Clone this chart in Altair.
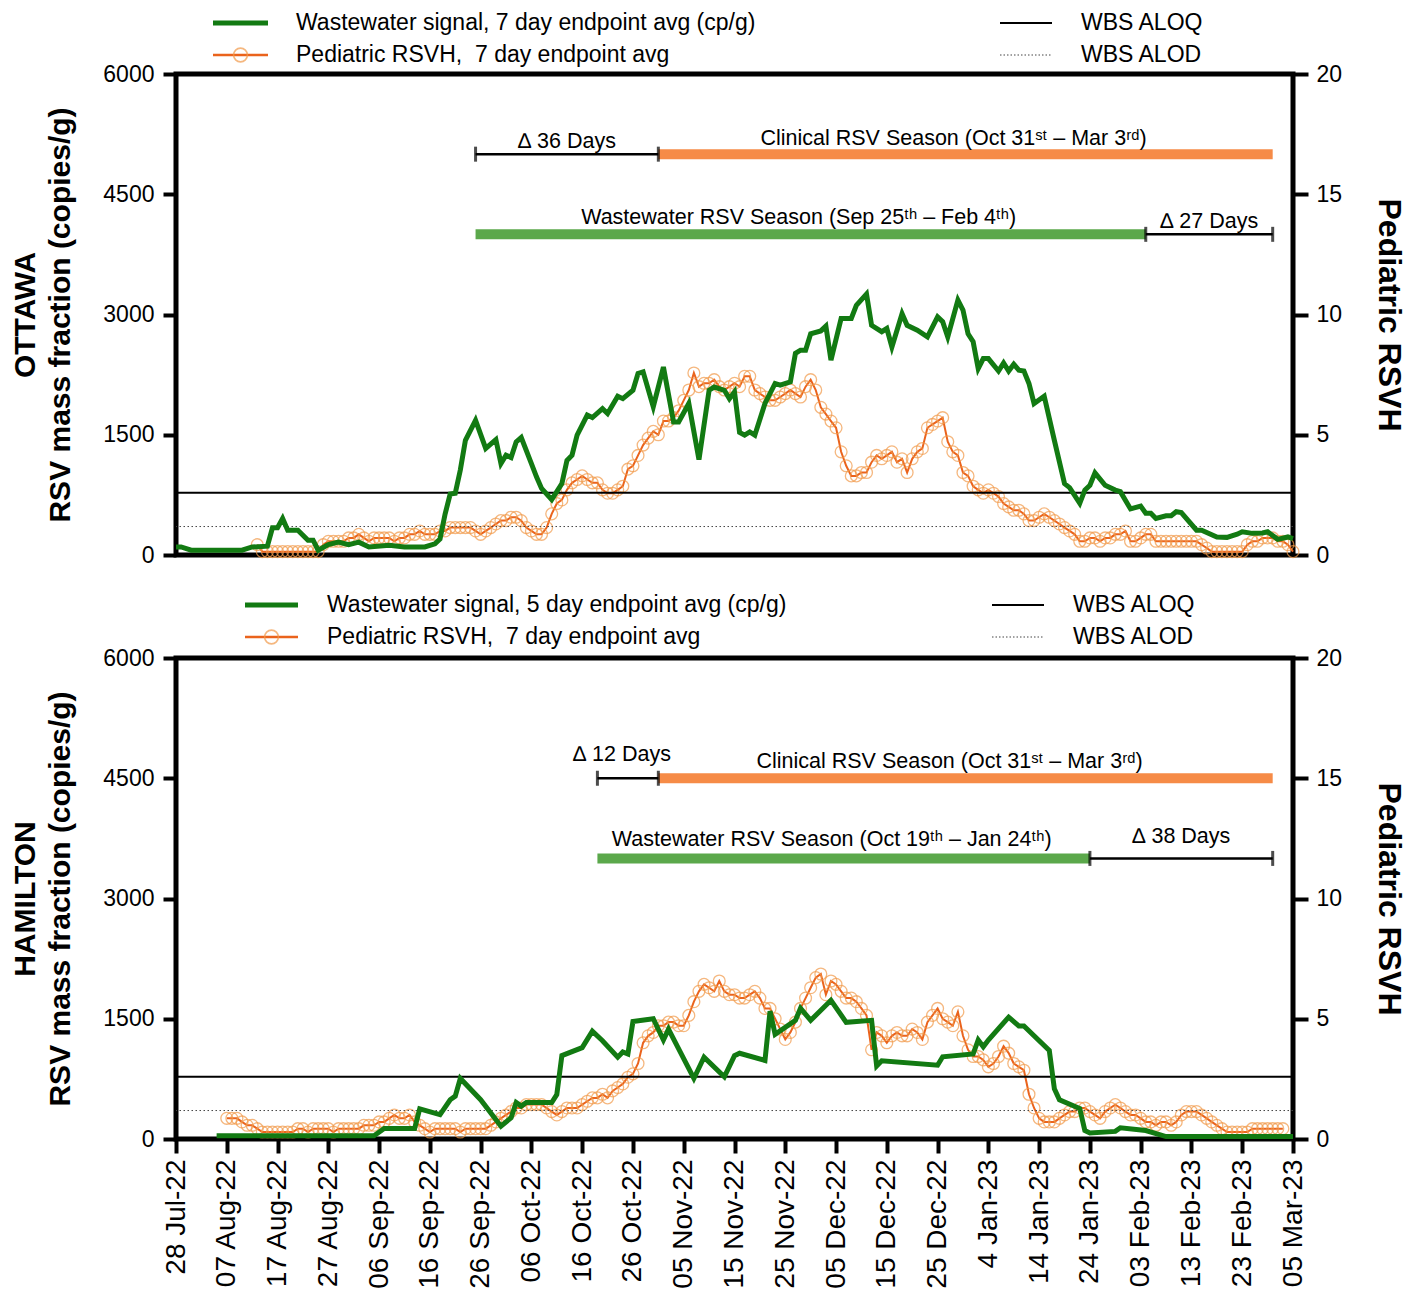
import altair as alt
import pandas as pd

FONT = "Liberation Sans"
GREEN = "#127A12"
GREEN_BAR = "#5BA84B"
ORANGE_LINE = "#EA631C"
ORANGE_PT = "#F29A4A"
ORANGE_BAR = "#F68B47"

TICK_LABELS = ["28 Jul-22", "07 Aug-22", "17 Aug-22", "27 Aug-22", "06 Sep-22", "16 Sep-22",
               "26 Sep-22", "06 Oct-22", "16 Oct-22", "26 Oct-22", "05 Nov-22", "15 Nov-22",
               "25 Nov-22", "05 Dec-22", "15 Dec-22", "25 Dec-22", "4 Jan-23", "14 Jan-23",
               "24 Jan-23", "03 Feb-23", "13 Feb-23", "23 Feb-23", "05 Mar-23"]
TICK_DAYS = list(range(0, 221, 10))
LEFT_TICKS = [0, 1500, 3000, 4500, 6000]
RIGHT_TICKS = [0, 5, 10, 15, 20]

ALOQ = 775
ALOD = 355

# ---- Ottawa: wastewater signal (cp/g), day index since 28 Jul 2022
OTT_WW_DAY = [0, 1, 3, 13, 15, 18, 19, 20, 21, 22,
              24, 26, 27, 28, 30, 32, 34, 36, 38, 42,
              45, 49, 51, 52, 53, 54, 55, 56, 57, 59,
              61, 63, 64, 65, 66, 67, 68, 70, 71, 72,
              74, 76, 77, 78, 79, 81, 82, 84, 85, 87,
              88, 90, 91, 92, 94, 96, 98, 99, 101, 103,
              105, 106, 108, 109, 110, 111, 112, 113, 114, 116,
              118, 119, 121, 122, 123, 124, 125, 127, 128, 129,
              131, 133, 134, 136, 137, 139, 140, 141, 143, 144,
              146, 148, 150, 151, 152, 154, 155, 156, 157, 158,
              159, 160, 162, 163, 164, 165, 166, 167, 168, 169,
              171, 173, 175, 176, 178, 179, 180, 181, 183, 185,
              186, 188, 190, 191, 192, 193, 195, 196, 197, 198,
              201, 202, 205, 207, 209, 210, 212, 214, 215, 217,
              219, 220]
OTT_WW_VAL = [100, 100, 60, 60, 100, 110, 340, 340, 455, 310,
              310, 185, 185, 60, 130, 160, 130, 160, 100, 120,
              100, 100, 140, 200, 510, 760, 770, 1060, 1430, 1680,
              1330, 1440, 1140, 1245, 1215, 1410, 1465, 1140, 975, 830,
              690, 890, 1180, 1245, 1495, 1745, 1715, 1825, 1765, 1980,
              1950, 2055, 2265, 2285, 1850, 2345, 1660, 1660, 1890, 1190,
              2055, 2095, 2055, 1950, 2035, 1530, 1495, 1535, 1495, 1890,
              2140, 2120, 2160, 2515, 2555, 2555, 2760, 2795, 2855, 2430,
              2950, 2950, 3115, 3255, 2865, 2785, 2825, 2595, 3010, 2865,
              2805, 2720, 2970, 2910, 2720, 3180, 3055, 2760, 2660, 2325,
              2450, 2450, 2295, 2395, 2295, 2380, 2305, 2295, 2140, 1890,
              1980, 1430, 890, 840, 645, 810, 870, 1025, 870, 810,
              790, 575, 610, 520, 520, 455, 490, 490, 540, 530,
              310, 310, 225, 220, 260, 290, 270, 275, 290, 195,
              225, 205]

# ---- Ottawa: pediatric RSVH (7 day avg), daily from day 16
OTT_RSVH_START = 16
OTT_RSVH = [0.43, 0.14, 0.14, 0.14, 0.14, 0.14, 0.14, 0.14, 0.14, 0.14,
            0.14, 0.14, 0.14, 0.43, 0.57, 0.57, 0.57, 0.57, 0.71, 0.71,
            0.86, 0.71, 0.57, 0.71, 0.71, 0.71, 0.71, 0.57, 0.71, 0.71,
            0.86, 0.86, 1.0, 0.86, 0.86, 0.86, 1.0, 1.0, 1.14, 1.14,
            1.14, 1.14, 1.14, 1.0, 0.86, 1.0, 1.14, 1.29, 1.43, 1.43,
            1.57, 1.57, 1.43, 1.14, 1.0, 0.86, 0.86, 1.14, 1.71, 2.14,
            2.29, 2.71, 3.0, 3.14, 3.29, 3.14, 3.0, 3.0, 2.71, 2.57,
            2.57, 2.71, 2.86, 3.57, 3.71, 4.14, 4.57, 4.86, 5.14, 5.0,
            5.57, 5.57, 5.71, 6.0, 6.43, 6.86, 7.57, 7.0, 7.14, 7.14,
            7.29, 7.0, 6.86, 7.0, 7.14, 7.0, 7.43, 7.43, 6.86, 6.71,
            6.57, 6.43, 6.43, 6.57, 6.71, 6.86, 6.71, 6.57, 7.0, 7.29,
            6.86, 6.14, 5.86, 5.57, 5.29, 4.29, 3.71, 3.29, 3.29, 3.43,
            3.43, 3.86, 4.14, 4.0, 4.14, 4.29, 3.86, 4.0, 3.43, 4.0,
            4.29, 4.43, 5.29, 5.43, 5.57, 5.71, 4.71, 4.29, 4.14, 3.43,
            3.29, 2.86, 2.71, 2.57, 2.71, 2.57, 2.43, 2.14, 2.0, 1.86,
            1.86, 1.71, 1.43, 1.43, 1.57, 1.71, 1.57, 1.43, 1.29, 1.14,
            1.0, 0.86, 0.57, 0.57, 0.71, 0.71, 0.57, 0.71, 0.71, 0.86,
            0.86, 1.0, 0.57, 0.57, 0.71, 0.86, 0.86, 0.57, 0.57, 0.57,
            0.57, 0.57, 0.57, 0.57, 0.57, 0.57, 0.43, 0.29, 0.14, 0.14,
            0.14, 0.14, 0.14, 0.14, 0.14, 0.43, 0.57, 0.57, 0.71, 0.71,
            0.71, 0.57, 0.57, 0.43, 0.14]

# ---- Hamilton: wastewater signal (cp/g)
HAM_WW_DAY = [8, 39, 41, 47, 48, 52, 54, 55, 56, 60,
              64, 66, 67, 68, 69, 74, 75, 76, 80, 82,
              84, 87, 88, 89, 90, 94, 96, 97, 102, 104,
              108, 110, 111, 116, 117, 118, 122, 123, 125, 129,
              132, 137, 138, 139, 150, 151, 157, 158, 159, 160,
              164, 166, 167, 172, 173, 174, 178, 179, 180, 185,
              186, 191, 195, 220]
HAM_WW_VAL = [40, 40, 130, 130, 375, 305, 490, 535, 755, 490,
              160, 265, 455, 410, 455, 455, 555, 1040, 1140, 1345,
              1225, 1020, 1085, 1060, 1465, 1500, 1235, 1370, 755, 1020,
              775, 1040, 1070, 980, 1595, 1305, 1480, 1630, 1480, 1730,
              1455, 1480, 910, 975, 920, 1025, 1060, 1235, 1150, 1235,
              1520, 1410, 1410, 1105, 625, 490, 380, 105, 75, 95,
              140, 105, 30, 30]

# ---- Hamilton: pediatric RSVH (7 day avg), daily from day 10
HAM_RSVH_START = 10
HAM_RSVH = [0.86, 0.86, 0.86, 0.71, 0.57, 0.57, 0.43, 0.29, 0.29, 0.29,
            0.29, 0.29, 0.29, 0.29, 0.43, 0.43, 0.29, 0.43, 0.43, 0.43,
            0.43, 0.29, 0.43, 0.43, 0.43, 0.43, 0.43, 0.57, 0.57, 0.57,
            0.71, 0.71, 0.86, 1.0, 0.86, 0.86, 1.0, 0.71, 0.57, 0.43,
            0.29, 0.43, 0.43, 0.43, 0.43, 0.43, 0.29, 0.43, 0.43, 0.43,
            0.43, 0.43, 0.57, 0.71, 0.86, 1.0, 1.14, 1.29, 1.29, 1.43,
            1.43, 1.43, 1.43, 1.29, 1.14, 1.0, 1.14, 1.29, 1.29, 1.29,
            1.43, 1.57, 1.71, 1.71, 1.86, 1.71, 2.0, 2.14, 2.29, 2.57,
            2.71, 3.14, 4.0, 4.29, 4.43, 4.71, 4.71, 4.86, 4.86, 4.71,
            4.71, 5.14, 5.71, 6.14, 6.43, 6.29, 6.14, 6.57, 6.14, 6.0,
            6.0, 5.86, 5.86, 6.0, 6.14, 5.86, 5.43, 5.43, 5.0, 4.57,
            4.14, 4.43, 4.86, 5.43, 5.86, 6.29, 6.71, 6.86, 6.0, 6.57,
            6.43, 6.14, 5.86, 5.86, 5.71, 5.43, 5.14, 3.71, 4.43, 4.29,
            4.0, 4.29, 4.43, 4.29, 4.29, 4.57, 4.43, 4.14, 4.86, 5.14,
            5.43, 5.0, 4.86, 4.71, 5.29, 4.29, 3.71, 3.43, 3.43, 3.29,
            3.0, 3.14, 3.43, 3.86, 3.57, 3.14, 3.0, 2.86, 1.86, 1.29,
            0.86, 0.71, 0.71, 0.71, 0.86, 1.0, 1.14, 1.14, 1.29, 1.29,
            1.14, 1.0, 0.86, 1.14, 1.29, 1.43, 1.29, 1.14, 1.0, 1.0,
            0.86, 0.71, 0.71, 0.57, 0.71, 0.71, 0.57, 0.71, 1.0, 1.14,
            1.14, 1.14, 1.0, 0.86, 0.71, 0.57, 0.43, 0.29, 0.29, 0.29,
            0.29, 0.29, 0.43, 0.43, 0.43, 0.43, 0.43, 0.43, 0.43]

# ---- Season annotations: (start day, end day, level in cp/g)
OTT_CLIN = (95, 216, 5000)
OTT_WWS = (59, 191, 4000)
OTT_D1 = (59, 95, 5000)
OTT_D2 = (191, 216, 4000)
HAM_CLIN = (95, 216, 4500)
HAM_WWS = (83, 180, 3500)
HAM_D1 = (83, 95, 4500)
HAM_D2 = (180, 216, 3500)

OTT_TEXT = ["Clinical RSV Season (Oct 31ˢᵗ – Mar 3ʳᵈ)",
            "Wastewater RSV Season (Sep 25ᵗʰ – Feb 4ᵗʰ)",
            "∆ 36 Days", "∆ 27 Days"]
HAM_TEXT = ["Clinical RSV Season (Oct 31ˢᵗ – Mar 3ʳᵈ)",
            "Wastewater RSV Season (Oct 19ᵗʰ – Jan 24ᵗʰ)",
            "∆ 12 Days", "∆ 38 Days"]

RSVH_LEGEND = "Pediatric RSVH, \u00a07 day endpoint avg"

W, H = 1117, 481
XS = alt.Scale(domain=[0, 220], nice=False, zero=False)
YL = alt.Scale(domain=[0, 6000], nice=False)
YR = alt.Scale(domain=[0, 20], nice=False)
ONE = pd.DataFrame({"k": [0]})

labels_js = "[" + ",".join("'" + s + "'" for s in TICK_LABELS) + "]"
LABEL_EXPR = labels_js + "[round(datum.value / 10)]"


def seg_df(seg):
    a, b, lvl = seg
    return pd.DataFrame({"a": [a], "b": [b], "lvl": [lvl], "mid": [(a + b) / 2]})


def ltext(x, y, s):
    return alt.Chart(ONE).mark_text(font=FONT, fontSize=23, align="left", baseline="middle",
                                    color="black").encode(
        x=alt.value(x), y=alt.value(y), text=alt.value(s))


def lrule(x1, x2, y, color, width, dash=None):
    kw = dict(color=color, strokeWidth=width)
    if dash:
        kw["strokeDash"] = dash
    return alt.Chart(ONE).mark_rule(**kw).encode(x=alt.value(x1), x2=alt.value(x2), y=alt.value(y))


def panel(city, ww_day, ww_val, rs_start, rs_vals, clin, wws, d1, d2, texts,
          ww_legend, bottom, lx, ly, label_shifts):
    if bottom:
        xa = alt.Axis(values=TICK_DAYS, labelExpr=LABEL_EXPR, labelAngle=270,
                      labelAlign="right", labelBaseline="middle", labelFontSize=28,
                      tickSize=14, tickWidth=4, tickColor="black", domain=False,
                      grid=False, labelPadding=6, labelFlush=False, labelOverlap=False,
                      title=None, labelColor="black", labelFont=FONT)
    else:
        xa = None

    la = alt.Axis(values=LEFT_TICKS, format="d", title=[city, "RSV mass fraction (copies/g)"],
                  titleFontSize=30, titleFontWeight="bold", titleLineHeight=35,
                  titlePadding=27, labelFontSize=23, tickSize=13, tickWidth=4,
                  tickColor="black", domain=False, grid=False, labelPadding=9,
                  labelColor="black", titleColor="black", labelFont=FONT, titleFont=FONT,
                  labelOverlap=False)
    ra = alt.Axis(orient="right", values=RIGHT_TICKS, format="d", title="Pediatric RSVH",
                  titleFontSize=32, titleFontWeight="bold", titlePadding=30,
                  labelFontSize=23, tickSize=15, tickWidth=4, tickColor="black",
                  domain=False, grid=False, labelPadding=8, labelColor="black",
                  titleColor="black", labelFont=FONT, titleFont=FONT, labelOverlap=False)

    def X(f):
        return alt.X(f, scale=XS, axis=xa)

    def YLc(f):
        return alt.Y(f, scale=YL, axis=la)

    def bar(seg, color):
        return alt.Chart(seg_df(seg)).mark_rule(color=color, strokeWidth=10).encode(
            x=X("a:Q"), x2="b:Q", y=YLc("lvl:Q"))

    def bracket(seg):
        line = alt.Chart(seg_df(seg)).mark_rule(color="black", strokeWidth=2.5).encode(
            x=X("a:Q"), x2="b:Q", y=YLc("lvl:Q"))
        ends = pd.DataFrame({"e": [seg[0], seg[1]], "lvl": [seg[2], seg[2]]})
        caps = alt.Chart(ends).mark_tick(orient="vertical", color="black", size=15,
                                         thickness=3).encode(x=X("e:Q"), y=YLc("lvl:Q"))
        return [line, caps]

    def label(seg, text, dx, dy):
        return alt.Chart(seg_df(seg)).mark_text(
            font=FONT, fontSize=21.5, color="black", align="center", baseline="alphabetic",
            dx=dx, dy=dy).encode(x=X("mid:Q"), y=YLc("lvl:Q"), text=alt.value(text))

    limits = [
        alt.Chart(pd.DataFrame({"v": [ALOQ]})).mark_rule(color="black", strokeWidth=2).encode(
            y=YLc("v:Q")),
        alt.Chart(pd.DataFrame({"v": [ALOD]})).mark_rule(color="#444444", strokeWidth=1,
                                                         strokeDash=[1.5, 2.5]).encode(
            y=YLc("v:Q")),
    ]
    ann = [bar(clin, ORANGE_BAR), bar(wws, GREEN_BAR)] + bracket(d1) + bracket(d2)
    s = label_shifts
    ann += [label(clin, texts[0], *s[0]), label(wws, texts[1], *s[1]),
            label(d1, texts[2], *s[2]), label(d2, texts[3], *s[3])]

    legend = [
        lrule(lx[0], lx[1], ly[0], GREEN, 5),
        ltext(lx[2], ly[0], ww_legend),
        lrule(lx[0], lx[1], ly[1], ORANGE_LINE, 2.5),
        alt.Chart(ONE).mark_point(shape="circle", filled=False, color=ORANGE_PT, size=190,
                                  strokeWidth=1.6).encode(
            x=alt.value((lx[0] + lx[1]) / 2), y=alt.value(ly[1])),
        ltext(lx[2], ly[1], RSVH_LEGEND),
        lrule(lx[3], lx[4], ly[0], "black", 2),
        ltext(lx[5], ly[0], "WBS ALOQ"),
        lrule(lx[3], lx[4], ly[1], "#444444", 1, [1.5, 2]),
        ltext(lx[5], ly[1], "WBS ALOD"),
    ]

    ww_df = pd.DataFrame({"day": ww_day, "v": ww_val})
    green = alt.Chart(ww_df).mark_line(color=GREEN, strokeWidth=5).encode(
        x=X("day:Q"), y=YLc("v:Q"))

    left_group = alt.layer(*(limits + ann + legend + [green]))

    rs_df = pd.DataFrame({"day": list(range(rs_start, rs_start + len(rs_vals))), "r": rs_vals})
    orange = alt.layer(
        alt.Chart(rs_df).mark_line(color=ORANGE_LINE, strokeWidth=2).encode(
            x=X("day:Q"), y=alt.Y("r:Q", scale=YR, axis=ra)),
        alt.Chart(rs_df).mark_point(shape="circle", filled=False, color=ORANGE_PT, size=140,
                                    strokeWidth=1.3).encode(
            x=X("day:Q"), y=alt.Y("r:Q", scale=YR, axis=ra)),
    )

    return alt.layer(orange, left_group).resolve_scale(y="independent").properties(
        width=W, height=H)


top = panel("OTTAWA", OTT_WW_DAY, OTT_WW_VAL, OTT_RSVH_START, OTT_RSVH,
            OTT_CLIN, OTT_WWS, OTT_D1, OTT_D2, OTT_TEXT,
            "Wastewater signal, 7 day endpoint avg (cp/g)", False,
            [37, 92, 120, 824, 876, 905], [-51, -19],
            [(-12, -9), (-12, -10), (0, -6), (0, -6)])
bottom = panel("HAMILTON", HAM_WW_DAY, HAM_WW_VAL, HAM_RSVH_START, HAM_RSVH,
               HAM_CLIN, HAM_WWS, HAM_D1, HAM_D2, HAM_TEXT,
               "Wastewater signal, 5 day endpoint avg (cp/g)", True,
               [69, 122, 151, 816, 868, 897], [-53, -21],
               [(-16, -10), (-12, -12), (-6, -17), (0, -15)])

chart = alt.vconcat(top, bottom, spacing=21).properties(
    padding={"left": 0, "top": 1, "right": 0, "bottom": 0}, background="white"
).configure(
    font=FONT,
    view=alt.ViewConfig(stroke="black", strokeWidth=5),
)

chart.save("out.html", embed_options={"renderer": "svg", "actions": False})
